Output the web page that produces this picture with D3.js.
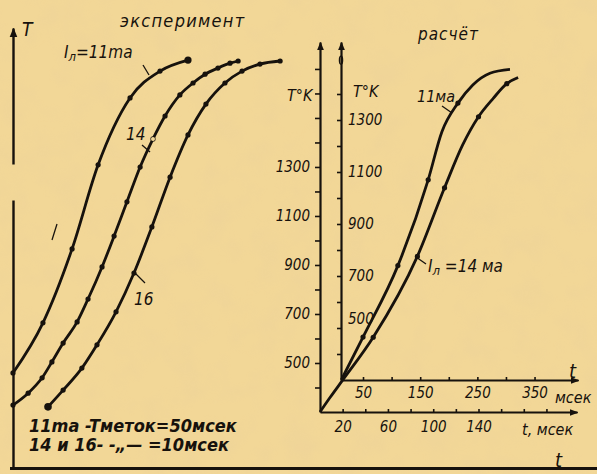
<!DOCTYPE html>
<html lang="ru">
<head>
<meta charset="UTF-8">
<title>эксперимент / расчёт</title>
<script src="https://d3js.org/d3.v7.min.js"></script>
<style>
  body { margin: 0; background: #f1d596; }
  svg { display: block; }
  .ink { stroke: #17120d; fill: none; }
  text { fill: #17120d; font-family: "DejaVu Sans Condensed", "Liberation Sans Narrow", "DejaVu Sans", sans-serif; font-style: italic; }
  .axis path, .axis line { stroke: #17120d; }
  .axis text { font-size: 15px; }
</style>
</head>
<body>
<div id="chart"></div>
<script>
// --- experiment (left panel): the figure gives no numbers on its axes,
// so positions are read in relative units 0..100 on both axes
var exp11X = [0.0, 10.7, 21.1, 30.4, 41.8, 52.5, 62.5];
var exp11Y = [21.6, 33.0, 49.8, 68.9, 84.1, 90.2, 92.7];

var exp14X = [0, 5.4, 10.4, 13.9, 17.9, 22.9, 26.8, 31.8, 36.1, 40.7, 45.4, 50.0, 54.3, 59.6, 64.3, 68.6, 73.2, 77.5, 80.4];
var exp14Y = [14.3, 17.0, 20.5, 24.1, 28.4, 33.2, 38.4, 45.7, 52.7, 60.5, 68.4, 74.8, 80.0, 84.8, 87.5, 89.5, 90.9, 92.0, 92.5];

var exp16X = [12.5, 17.9, 24.6, 30.0, 36.8, 43.2, 49.6, 56.1, 62.5, 68.9, 75.7, 81.8, 88.2, 95.4];
var exp16Y = [13.9, 17.7, 22.7, 28.0, 35.5, 44.3, 54.8, 66.1, 75.7, 82.7, 87.5, 90.2, 91.8, 92.5];

// --- calculation (right panel)
// 11 ma is drawn against the inner axes (t up to 350 msec)
var calc11T = [12, 50, 111, 164, 188, 216, 242, 272, 307];
var calc11K = [300, 465, 740, 1070, 1255, 1365, 1435, 1480, 1495];
var calc11Marks = [50, 111, 164, 216];
// 14 ma is drawn against the outer axes (t up to 140 msec)
var calc14T = [0, 9, 20, 47, 86, 110, 126, 140, 153, 165, 175];
var calc14K = [300, 360, 430, 605, 935, 1215, 1390, 1505, 1580, 1640, 1665];
var calc14Marks = [47, 86, 110, 140, 165];

// tick labels
var outerKTicks = d3.range(400, 1800, 100);
var outerKLabels = [500, 700, 900, 1100, 1300];
var innerKTicks = d3.range(400, 1500, 100);
var innerKLabels = [500, 700, 900, 1100, 1300];
var outerTTicks = d3.range(20, 220, 20);
var outerTLabels = [20, 60, 100, 140];
var innerTTicks = d3.range(50, 400, 50);
var innerTLabels = [50, 150, 250, 350];

var W = 597, H = 474;
var svg = d3.select("#chart").append("svg").attr("width", W).attr("height", H);

// paper
var defs = svg.append("defs");
var f = defs.append("filter").attr("id", "paper").attr("x", 0).attr("y", 0).attr("width", 1).attr("height", 1);
f.append("feTurbulence").attr("type", "fractalNoise").attr("baseFrequency", 0.035).attr("numOctaves", 3).attr("seed", 4);
f.append("feColorMatrix").attr("values", "0 0 0 0 0.82  0 0 0 0 0.62  0 0 0 0 0.33  0 0 0 1.1 -0.45");
svg.append("rect").attr("width", W).attr("height", H).attr("fill", "#f2d797");
svg.append("rect").attr("width", W).attr("height", H).attr("filter", "url(#paper)").attr("opacity", 0.55);

var marker = defs.append("marker").attr("id", "arr").attr("viewBox", "0 0 10 10")
  .attr("refX", 9).attr("refY", 5).attr("markerWidth", 4).attr("markerHeight", 4).attr("orient", "auto-start-reverse");
marker.append("path").attr("d", "M0,1 L10,5 L0,9 Z").attr("fill", "#17120d");

// ---------- left panel ----------
var lx = d3.scaleLinear().domain([0, 100]).range([13, 293]);
var ly = d3.scaleLinear().domain([0, 100]).range([468, 28]);

// frame bottom line across the sheet
svg.append("line").attr("class", "ink").attr("x1", 10).attr("x2", W).attr("y1", 468.5).attr("y2", 468.5).attr("stroke-width", 3);

// T axis with a break in it
var lAxis = svg.append("g").attr("class", "axis").attr("transform", "translate(13,0)")
  .call(d3.axisLeft(ly).ticks(0).tickSizeOuter(0));
lAxis.select(".domain").attr("stroke-width", 2.4)
  .attr("stroke-dasharray", (ly(0) - 200) + " 36 1000")
  .attr("marker-end", "url(#arr)");
svg.append("text").attr("x", 22).attr("y", 36).attr("font-size", 19).text("T");

var lline = d3.line().x(function(d) { return lx(d[0]); }).y(function(d) { return ly(d[1]); })
  .curve(d3.curveMonotoneX);

function drawExp(xs, ys) {
  var pts = xs.map(function(x, i) { return [x, ys[i]]; });
  svg.append("path").datum(pts).attr("class", "ink").attr("stroke-width", 2.8).attr("d", lline);
  svg.append("g").selectAll("circle").data(pts).enter().append("circle")
    .attr("cx", function(d) { return lx(d[0]); }).attr("cy", function(d) { return ly(d[1]); })
    .attr("r", 2.6).attr("fill", "#17120d");
  return pts;
}
var p11 = drawExp(exp11X, exp11Y);
var p14 = drawExp(exp14X, exp14Y);
var p16 = drawExp(exp16X, exp16Y);
// heavier end dots
svg.append("circle").attr("cx", lx(p11[p11.length - 1][0])).attr("cy", ly(p11[p11.length - 1][1])).attr("r", 3.6).attr("fill", "#17120d");
svg.append("circle").attr("cx", lx(p16[0][0])).attr("cy", ly(p16[0][1])).attr("r", 3.8).attr("fill", "#17120d");
svg.append("circle").attr("cx", lx(p14[11][0])).attr("cy", ly(p14[11][1])).attr("r", 2).attr("fill", "#f2d797");

svg.append("text").attr("x", 120).attr("y", 27).attr("font-size", 18).attr("letter-spacing", 1.3).text("эксперимент");
var lab11 = svg.append("text").attr("x", 64).attr("y", 58).attr("font-size", 17);
lab11.append("tspan").text("I");
lab11.append("tspan").attr("font-size", 13).attr("dy", 3).text("л");
lab11.append("tspan").attr("dy", -3).text("=11ma");
svg.append("line").attr("class", "ink").attr("stroke-width", 1.3).attr("x1", 143).attr("y1", 65).attr("x2", 149).attr("y2", 75);
svg.append("text").attr("x", 126).attr("y", 140).attr("font-size", 17).text("14");
svg.append("line").attr("class", "ink").attr("stroke-width", 1.3).attr("x1", 142).attr("y1", 145).attr("x2", 150).attr("y2", 152);
svg.append("text").attr("x", 134).attr("y", 305).attr("font-size", 17).text("16");
svg.append("line").attr("class", "ink").attr("stroke-width", 1.3).attr("x1", 134).attr("y1", 272).attr("x2", 145).attr("y2", 283);
svg.append("line").attr("class", "ink").attr("stroke-width", 1.3).attr("x1", 52).attr("y1", 240).attr("x2", 57).attr("y2", 224);

svg.append("text").attr("x", 29).attr("y", 432).attr("font-size", 18).attr("font-weight", "bold").text("11ma -Tметок=50мсек");
svg.append("text").attr("x", 29).attr("y", 451).attr("font-size", 18).attr("font-weight", "bold").text("14 и 16- -„— =10мсек");

// ---------- right panel ----------
var ox = d3.scaleLinear().domain([0, 227]).range([320, 577]);
var oy = d3.scaleLinear().domain([300, 1810]).range([412, 42]);
var ix = d3.scaleLinear().domain([11.5, 426]).range([341, 578]);
var iy = d3.scaleLinear().domain([300, 1600]).range([380, 42]);

function fmt(list) { return function(d) { return list.indexOf(d) >= 0 ? d : ""; }; }

// outer axes
var oyAxis = svg.append("g").attr("class", "axis").attr("transform", "translate(" + ox(0) + ",0)")
  .call(d3.axisLeft(oy).tickValues(outerKTicks).tickFormat(fmt(outerKLabels)).tickSizeInner(5).tickSizeOuter(0).tickPadding(5));
var oxAxis = svg.append("g").attr("class", "axis").attr("transform", "translate(0," + oy(300) + ")")
  .call(d3.axisBottom(ox).tickValues(outerTTicks).tickFormat(fmt(outerTLabels)).tickSizeInner(-3).tickSizeOuter(0).tickPadding(9));
// inner axes
var iyAxis = svg.append("g").attr("class", "axis").attr("transform", "translate(" + ix(11.5) + ",0)")
  .call(d3.axisRight(iy).tickValues(innerKTicks).tickFormat(fmt(innerKLabels)).tickSizeInner(-4).tickSizeOuter(0).tickPadding(7));
var ixAxis = svg.append("g").attr("class", "axis").attr("transform", "translate(0," + iy(300) + ")")
  .call(d3.axisBottom(ix).tickValues(innerTTicks).tickFormat(fmt(innerTLabels)).tickSizeInner(-3).tickSizeOuter(0).tickPadding(7));

[oyAxis, oxAxis, iyAxis, ixAxis].forEach(function(a) {
  a.select(".domain").attr("stroke-width", 2.2).attr("marker-end", "url(#arr)");
  a.selectAll(".tick line").attr("stroke-width", 1.6);
});
iyAxis.selectAll(".tick text").filter(function(d) { return d === 500; }).attr("dy", "-0.3em");
// loop drawn on the inner T axis near its arrow
svg.append("ellipse").attr("class", "ink").attr("stroke-width", 1.3)
  .attr("cx", ix(11.5)).attr("cy", iy(1530)).attr("rx", 1.6).attr("ry", 4);

svg.append("text").attr("x", 287).attr("y", 101).attr("font-size", 16).text("T°K");
svg.append("text").attr("x", 353).attr("y", 97).attr("font-size", 16).text("T°K");
svg.append("text").attr("x", 522).attr("y", 435).attr("font-size", 16).text("t, мсек");
svg.append("text").attr("x", 555).attr("y", 403).attr("font-size", 16).text("мсек");
svg.append("text").attr("x", 569).attr("y", 378).attr("font-size", 20).text("t");
svg.append("text").attr("x", 555).attr("y", 467).attr("font-size", 20).text("t");
svg.append("text").attr("x", 418).attr("y", 40).attr("font-size", 17).attr("letter-spacing", 1).text("расчёт");

function drawCalc(ts, ks, marks, xs, ys) {
  var pts = ts.map(function(t, i) { return [t, ks[i]]; });
  var line = d3.line().x(function(d) { return xs(d[0]); }).y(function(d) { return ys(d[1]); })
    .curve(d3.curveMonotoneX);
  svg.append("path").datum(pts).attr("class", "ink").attr("stroke-width", 2.8).attr("d", line);
  svg.append("g").selectAll("circle").data(pts.filter(function(d) { return marks.indexOf(d[0]) >= 0; }))
    .enter().append("circle")
    .attr("cx", function(d) { return xs(d[0]); }).attr("cy", function(d) { return ys(d[1]); })
    .attr("r", 2.6).attr("fill", "#17120d");
}
drawCalc(calc11T, calc11K, calc11Marks, ix, iy);
drawCalc(calc14T, calc14K, calc14Marks, ox, oy);

svg.append("text").attr("x", 417).attr("y", 102).attr("font-size", 16).text("11ма");
svg.append("line").attr("class", "ink").attr("stroke-width", 1.3).attr("x1", 442).attr("y1", 106).attr("x2", 452).attr("y2", 113);
var lab14 = svg.append("text").attr("x", 428).attr("y", 272).attr("font-size", 17);
lab14.append("tspan").text("I");
lab14.append("tspan").attr("font-size", 13).attr("dy", 3).text("л");
lab14.append("tspan").attr("dy", -3).text(" =14 ма");
svg.append("line").attr("class", "ink").attr("stroke-width", 1.3).attr("x1", 416).attr("y1", 257).attr("x2", 426).attr("y2", 264);
</script>
</body>
</html>
